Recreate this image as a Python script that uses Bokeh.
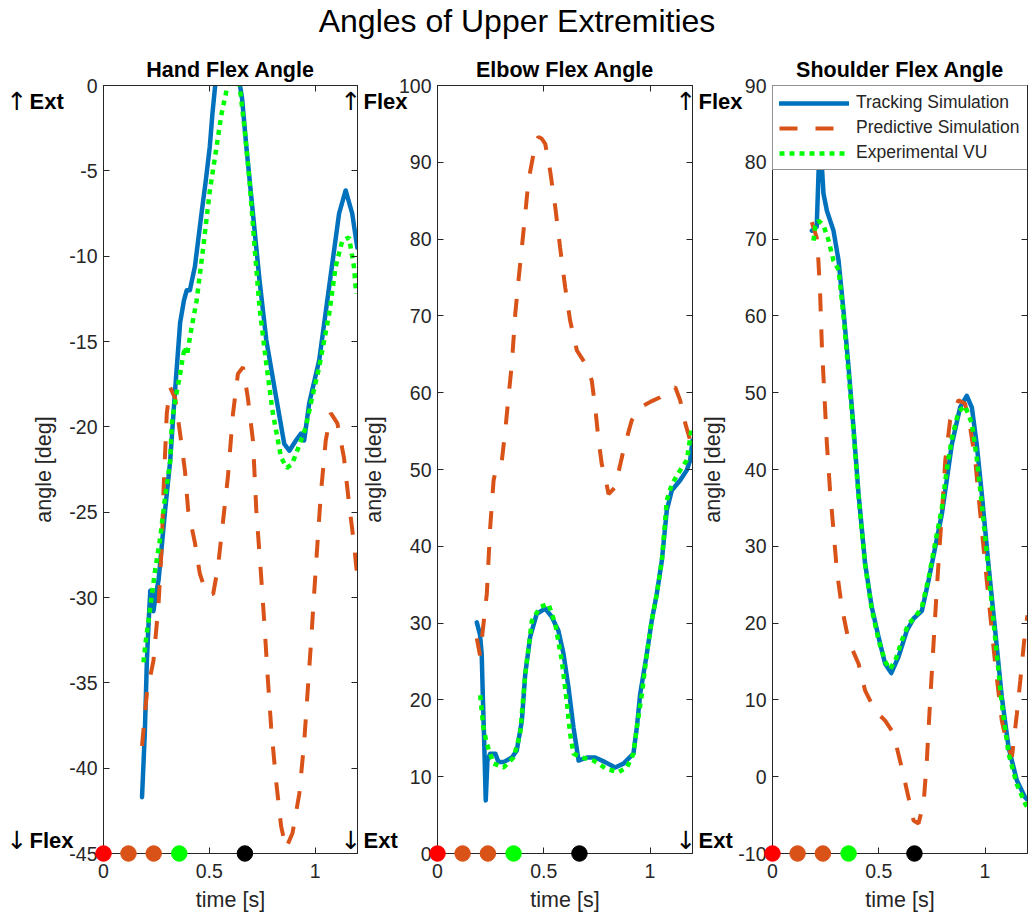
from bokeh.plotting import figure
from bokeh.models import (FixedTicker, LinearAxis, Legend, LegendItem,
                          Range1d, NumeralTickFormatter)
from bokeh.core.properties import value
from bokeh.layouts import row
from bokeh.embed import file_html
from bokeh.resources import INLINE

# ---------------------------------------------------------------- data
# Hand flexion angle [deg] vs time [s]
hand_track_t = [0.182, 0.195, 0.205, 0.213, 0.221, 0.228, 0.236, 0.245, 0.260, 0.291,
                0.315, 0.338, 0.362, 0.380, 0.393, 0.408, 0.432, 0.463, 0.483, 0.502,
                0.515, 0.530, 0.560, 0.600, 0.640, 0.655, 0.675, 0.706, 0.737, 0.769,
                0.816, 0.854, 0.878, 0.909, 0.933, 0.948, 0.972, 1.019, 1.066, 1.113,
                1.144, 1.175, 1.199]
hand_track = [-41.7, -38.0, -33.7, -31.5, -29.6, -29.8, -30.8, -30.0, -29.0, -24.9,
              -22.0, -17.9, -13.9, -12.6, -12.0, -12.0, -10.6, -7.5, -5.6, -3.6,
              -1.6, 0.3, 1.3, 1.3, 0.4, -0.8, -3.6, -7.5, -11.4, -14.9,
              -18.3, -21.0, -21.4, -20.8, -20.4, -20.8, -18.6, -16.1, -11.8, -7.5,
              -6.15, -7.5, -9.5]

hand_pred_t = [0.182, 0.205, 0.236, 0.260, 0.276, 0.283, 0.299, 0.315, 0.338, 0.362,
               0.385, 0.400, 0.432, 0.455, 0.487, 0.518, 0.541, 0.565, 0.588, 0.612,
               0.635, 0.659, 0.682, 0.706, 0.722, 0.745, 0.761, 0.776, 0.792, 0.815,
               0.839, 0.862, 0.893, 0.925, 0.948, 0.964, 0.980, 0.995, 1.011, 1.027,
               1.050, 1.074, 1.105, 1.136, 1.160, 1.183, 1.199]
hand_pred = [-38.7, -35.6, -33.7, -30.4, -26.8, -23.9, -19.2, -17.7, -18.3, -20.4,
             -22.6, -24.9, -26.8, -28.6, -29.8, -29.8, -28.2, -25.5, -22.9, -19.2,
             -16.9, -16.5, -18.3, -20.8, -24.9, -28.8, -31.7, -34.7, -37.6, -40.7,
             -43.4, -44.7, -43.8, -41.5, -38.5, -35.6, -32.7, -29.8, -26.8, -23.9,
             -20.8, -19.2, -19.8, -21.8, -24.5, -26.8, -28.8]

hand_exp_t = [0.189, 0.200, 0.213, 0.229, 0.244, 0.268, 0.291, 0.315, 0.323, 0.338,
              0.362, 0.375, 0.385, 0.395, 0.405, 0.416, 0.440, 0.471, 0.502, 0.534,
              0.557, 0.581, 0.600, 0.625, 0.643, 0.667, 0.690, 0.714, 0.737, 0.769,
              0.800, 0.839, 0.866, 0.890, 0.909, 0.933, 0.956, 0.980, 1.019, 1.066,
              1.097, 1.128, 1.160, 1.183, 1.194]
hand_exp = [-33.8, -32.5, -31.3, -29.8, -28.4, -26.5, -24.1, -22.0, -19.8, -18.5,
            -16.9, -15.9, -15.3, -15.8, -15.0, -14.2, -12.6, -9.5, -6.2, -3.6,
            -1.7, -0.3, 0.5, 0.5, 0.0, -2.6, -5.6, -9.5, -13.0, -16.3,
            -19.2, -21.8, -22.4, -22.2, -21.6, -20.8, -20.0, -18.6, -16.5, -13.4,
            -10.6, -9.1, -8.9, -10.6, -12.2]

# Elbow flexion angle [deg] vs time [s]
elbow_track_t = [0.185, 0.200, 0.208, 0.213, 0.220, 0.227, 0.235, 0.248, 0.272, 0.287,
                 0.311, 0.350, 0.373, 0.397, 0.413, 0.436, 0.467, 0.507, 0.538, 0.569,
                 0.593, 0.616, 0.640, 0.664, 0.703, 0.742, 0.789, 0.836, 0.875, 0.922,
                 0.938, 0.954, 0.985, 1.008, 1.032, 1.056, 1.079, 1.103, 1.142, 1.173,
                 1.189, 1.200]
elbow_track = [30.1, 28.5, 26.0, 20.8, 14.3, 6.9, 12.1, 13.0, 13.0, 11.9,
               11.9, 12.5, 13.4, 17.3, 23.4, 28.2, 31.2, 31.9, 30.8, 29.0,
               26.0, 21.7, 16.4, 12.1, 12.5, 12.5, 11.9, 11.2, 11.7, 13.0,
               16.4, 20.8, 26.0, 30.3, 33.8, 38.2, 44.7, 47.3, 48.6, 49.9,
               51.2, 53.8]

elbow_pred_t = [0.185, 0.200, 0.232, 0.240, 0.248, 0.264, 0.280, 0.295, 0.303, 0.319,
                0.334, 0.350, 0.366, 0.381, 0.397, 0.413, 0.428, 0.452, 0.465, 0.475,
                0.490, 0.507, 0.530, 0.554, 0.577, 0.601, 0.624, 0.656, 0.695, 0.726,
                0.742, 0.758, 0.773, 0.789, 0.805, 0.836, 0.875, 0.914, 0.954, 1.001,
                1.048, 1.079, 1.119, 1.142, 1.166, 1.189]
elbow_pred = [28.0, 25.8, 33.8, 38.1, 42.5, 48.6, 50.6, 51.2, 51.2, 55.1,
              59.4, 63.8, 70.3, 74.6, 78.9, 83.3, 87.6, 91.1, 92.8, 93.3,
              93.1, 92.4, 88.9, 84.2, 78.9, 73.7, 69.4, 65.5, 63.8, 61.6,
              58.1, 53.8, 50.7, 49.0, 46.8, 47.7, 52.5, 56.4, 58.1, 58.8,
              59.4, 60.3, 60.7, 59.0, 56.0, 53.8]

elbow_exp_t = [0.201, 0.216, 0.232, 0.264, 0.311, 0.358, 0.389, 0.413, 0.444, 0.483,
               0.522, 0.554, 0.585, 0.608, 0.624, 0.640, 0.679, 0.734, 0.797, 0.852,
               0.891, 0.922, 0.938, 0.962, 0.985, 1.008, 1.032, 1.056, 1.079, 1.103,
               1.142, 1.173, 1.197]
elbow_exp = [20.6, 16.4, 14.3, 11.7, 11.2, 12.5, 15.6, 23.4, 30.3, 32.1,
             32.5, 29.9, 25.1, 19.9, 15.6, 13.0, 12.5, 12.1, 11.0, 10.6,
             11.2, 13.0, 16.4, 20.8, 26.0, 30.3, 33.8, 38.2, 46.0, 48.1,
             49.9, 51.2, 55.5]

# Shoulder flexion angle [deg] vs time [s]
shoulder_track_t = [0.185, 0.208, 0.216, 0.222, 0.228, 0.240, 0.256, 0.287, 0.311, 0.334,
                    0.358, 0.381, 0.405, 0.436, 0.467, 0.499, 0.530, 0.559, 0.593, 0.632,
                    0.664, 0.703, 0.734, 0.766, 0.797, 0.820, 0.844, 0.883, 0.914, 0.938,
                    0.961, 0.985, 1.016, 1.048, 1.079, 1.111, 1.150, 1.189, 1.200]
shoulder_track = [71.1, 71.6, 78.1, 83.0, 81.5, 75.9, 73.7, 71.1, 67.2, 60.7,
                  53.3, 45.5, 36.8, 27.7, 22.1, 18.2, 14.7, 13.5, 15.6, 19.0,
                  20.6, 21.6, 25.5, 29.9, 34.2, 38.6, 43.3, 48.1, 49.6, 48.1,
                  43.3, 36.8, 27.7, 19.0, 10.4, 3.8, -0.5, -2.7, -3.0]

shoulder_pred_t = [0.185, 0.208, 0.216, 0.224, 0.232, 0.240, 0.256, 0.271, 0.287, 0.303,
                   0.326, 0.358, 0.405, 0.436, 0.483, 0.530, 0.561, 0.585, 0.608, 0.640,
                   0.664, 0.687, 0.711, 0.726, 0.740, 0.755, 0.770, 0.784, 0.797, 0.813,
                   0.836, 0.875, 0.906, 0.930, 0.954, 0.985, 1.016, 1.048, 1.079, 1.103,
                   1.127, 1.150, 1.166, 1.189, 1.200]
shoulder_pred = [72.2, 70.2, 67.2, 62.9, 56.4, 52.0, 43.3, 37.2, 32.1, 26.8,
                 22.1, 17.7, 14.7, 11.2, 8.6, 7.3, 6.0, 3.8, 1.2, -2.7,
                 -5.7, -6.1, -3.5, 2.0, 9.0, 16.0, 23.0, 29.0, 34.2, 41.2,
                 46.4, 49.0, 48.6, 45.5, 41.2, 32.1, 23.4, 14.7, 7.3, 4.3,
                 2.6, 8.2, 12.5, 19.0, 21.0]

shoulder_exp_t = [0.193, 0.201, 0.216, 0.240, 0.264, 0.287, 0.311, 0.334, 0.358, 0.381,
                  0.405, 0.436, 0.467, 0.499, 0.530, 0.553, 0.579, 0.608, 0.640, 0.672,
                  0.703, 0.734, 0.766, 0.797, 0.820, 0.844, 0.875, 0.906, 0.938, 0.961,
                  0.985, 1.016, 1.048, 1.079, 1.111, 1.150, 1.189, 1.200]
shoulder_exp = [69.8, 71.6, 72.4, 71.8, 69.8, 67.2, 66.0, 60.0, 52.5, 45.0,
                36.5, 27.5, 21.8, 17.8, 15.0, 14.0, 15.2, 17.7, 19.9, 20.8,
                22.1, 25.8, 30.5, 35.0, 40.0, 44.0, 47.5, 48.3, 46.0, 41.5,
                35.5, 27.0, 18.0, 9.5, 3.0, -1.0, -3.5, -4.0]

# gait events marked along the time axis [s]
event_t = [0.0, 0.118, 0.237, 0.358, 0.668]

series_names = ["Tracking Simulation", "Predictive Simulation", "Experimental VU"]
panel_titles = ["Hand Flex Angle", "Elbow Flex Angle", "Shoulder Flex Angle"]
y_limits = [(-45, 0), (0, 100), (-10, 90)]
y_steps = [5, 10, 10]
direction_words = [("Ext", "Flex"), ("Flex", "Ext"), ("Flex", "Ext")]
UP_ARROW, DOWN_ARROW = "\u2191", "\u2193"
x_ticks = [0, 0.5, 1]
main_title = "Angles of Upper Extremities"

# ---------------------------------------------------------------- styles
FONT = "Liberation Sans"
ARROW_FONT = "DejaVu Sans"
AX = "#262626"
BLUE = "#0072BD"
ORANGE = "#D95319"
GREEN = "#00FF00"
EVENT_COLORS = ["#FF0000", ORANGE, ORANGE, GREEN, "#000000"]
FIG_H = 915
TOP, BOTTOM = 85, 62
FRAME_H = FIG_H - TOP - BOTTOM


def style_axis(ax, ticks, show_labels=True):
    ax.ticker = FixedTicker(ticks=ticks)
    ax.axis_line_color = AX
    ax.major_tick_line_color = AX
    ax.major_tick_in = 6
    ax.major_tick_out = 0
    ax.minor_tick_line_color = None
    ax.major_label_text_font = FONT
    if show_labels:
        ax.major_label_text_color = AX
        ax.major_label_text_font_size = "19.5px"
        ax.major_label_standoff = 6
    else:
        # box-side axes carry ticks only
        ax.major_label_text_color = None
        ax.major_label_text_font_size = "1px"
        ax.major_label_standoff = 0
    ax.axis_label_text_font = FONT
    ax.axis_label_text_font_size = "21.5px"
    ax.axis_label_text_font_style = "normal"
    ax.axis_label_text_color = AX


def add_text(p, x, y, txt, size, style="normal", align="left", font=FONT):
    p.text(x=[x], y=[y], text=[txt], text_font=value(font),
           text_font_size=value(size), text_font_style=style,
           text_color="black", text_align=align, text_baseline="middle",
           level="overlay")


def make_panel(i, series, width, border_left, border_right, margin_left, legend=False):
    ylo, yhi = y_limits[i]
    yspan = yhi - ylo
    frame_w = width - border_left - border_right
    p = figure(width=width, height=FIG_H, x_range=Range1d(0, 1.2),
               y_range=Range1d(ylo, yhi), output_backend="svg",
               toolbar_location=None, min_border_left=border_left,
               min_border_right=border_right, min_border_top=TOP,
               min_border_bottom=BOTTOM, x_axis_label="time [s]",
               y_axis_label="angle [deg]", title=panel_titles[i])
    p.margin = (0, 0, 0, margin_left)
    p.border_fill_color = None
    p.background_fill_color = "white"
    p.outline_line_color = AX
    p.grid.visible = False

    p.title.align = "center"
    p.title.text_font = FONT
    p.title.text_font_size = "21.5px"
    p.title.text_font_style = "bold"
    p.title.text_color = "black"
    p.title.standoff = 8

    yticks = list(range(ylo, yhi + 1, y_steps[i]))
    style_axis(p.xaxis[0], x_ticks)
    p.xaxis[0].formatter = NumeralTickFormatter(format="0.[0]")
    p.xaxis[0].major_label_standoff = 10
    p.xaxis[0].axis_label_standoff = 7
    style_axis(p.yaxis[0], yticks)
    p.yaxis[0].formatter = NumeralTickFormatter(format="0")
    p.yaxis[0].axis_label_standoff = 10

    right = LinearAxis()
    style_axis(right, yticks, show_labels=False)
    p.add_layout(right, "right")
    top = LinearAxis()
    style_axis(top, x_ticks, show_labels=False)
    p.add_layout(top, "above")

    (tt, ty), (pt, py), (et, ey) = series
    r_track = p.line(tt, ty, line_color=BLUE, line_width=4.5,
                     line_join="round", line_cap="round")
    r_pred = p.line(pt, py, line_color=ORANGE, line_width=4,
                    line_dash="18 18")
    r_exp = p.line(et, ey, line_color=GREEN, line_width=4.5,
                   line_dash="5 5")

    p.scatter(event_t, [ylo] * len(event_t), size=15.5, marker="circle",
              fill_color=EVENT_COLORS, line_color=EVENT_COLORS, level="overlay")

    # flexion / extension direction hints to the left of the axis
    px_per_s = frame_w / 1.2
    x_arrow = -97 / px_per_s
    x_word = -74 / px_per_s
    up_word, down_word = direction_words[i]
    y_up = yhi - (101 - TOP) * yspan / FRAME_H
    y_down = ylo + 13 * yspan / FRAME_H
    add_text(p, x_arrow, y_up, UP_ARROW, "25px", font=ARROW_FONT)
    add_text(p, x_word, y_up, up_word, "22px", "bold")
    add_text(p, x_arrow, y_down, DOWN_ARROW, "25px", font=ARROW_FONT)
    add_text(p, x_word, y_down, down_word, "22px", "bold")

    if legend:
        items = [LegendItem(label=n, renderers=[r])
                 for n, r in zip(series_names, (r_track, r_pred, r_exp))]
        lg = Legend(items=items, location="top_left", margin=0, padding=6,
                    spacing=4, glyph_width=70, glyph_height=20, label_height=20,
                    label_width=185, label_standoff=7, label_text_font=FONT,
                    label_text_font_size="17.5px", label_text_color=AX,
                    border_line_color=AX, border_line_width=1,
                    background_fill_color="white", background_fill_alpha=1.0,
                    level="overlay")
        p.add_layout(lg)
    return p, frame_w


p1, _ = make_panel(0, [(hand_track_t, hand_track), (hand_pred_t, hand_pred),
                       (hand_exp_t, hand_exp)], 390, 103, 33, 0)
p2, fw2 = make_panel(1, [(elbow_track_t, elbow_track), (elbow_pred_t, elbow_pred),
                         (elbow_exp_t, elbow_exp)], 425, 137, 33, -90)
p3, _ = make_panel(2, [(shoulder_track_t, shoulder_track),
                       (shoulder_pred_t, shoulder_pred),
                       (shoulder_exp_t, shoulder_exp)], 393, 132, 6, -85,
                   legend=True)

# figure-wide heading, centred on the page, carried by the middle panel
ylo2, yhi2 = y_limits[1]
add_text(p2, (516.5 - 437) * 1.2 / fw2,
         yhi2 + (TOP - 20) * (yhi2 - ylo2) / FRAME_H,
         main_title, "32px", align="center")

layout = row(p1, p2, p3)
open("out.html", "w").write(file_html(layout, INLINE))
